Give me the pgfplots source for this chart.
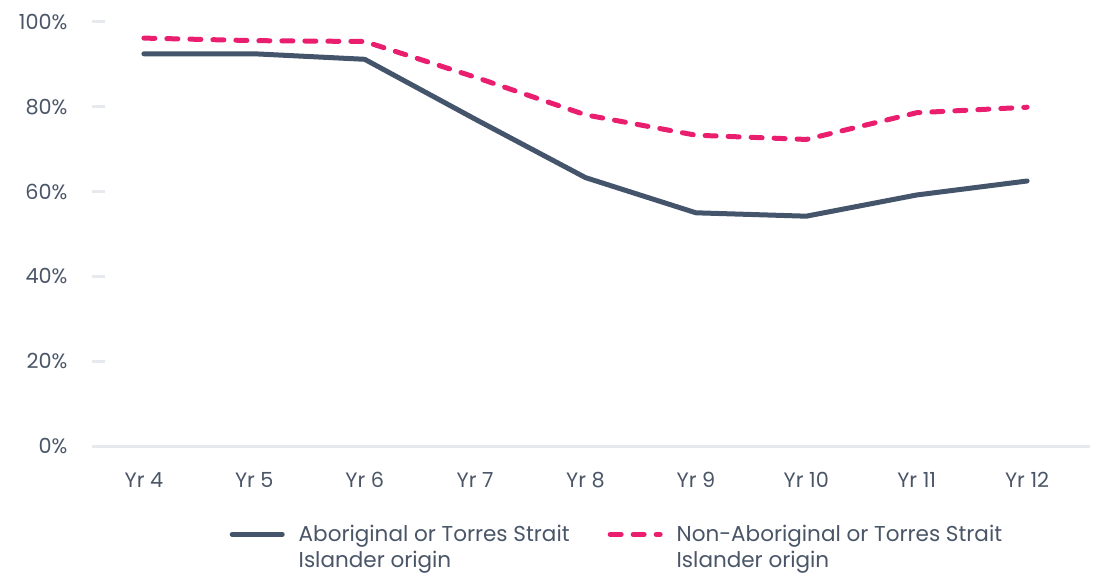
\documentclass[border=0pt]{standalone}
\usepackage{fontspec}
\setmainfont{Poppins}[Scale=0.92]
\usepackage{pgfplots}
\pgfplotsset{compat=1.18}
\definecolor{slate}{HTML}{44546A}
\definecolor{pinkline}{HTML}{E91E6F}
\definecolor{txt}{HTML}{4A5668}
\definecolor{gridgray}{HTML}{E6E9ED}
\begin{document}
\begin{tikzpicture}
\begin{axis}[
  scale only axis,
  width=499pt, height=212pt,
  xmin=-0.47, xmax=8.57,
  ymin=0, ymax=100,
  axis x line*=bottom,
  x axis line style={-, draw=gridgray, line width=1.5pt},
  axis y line*=left,
  y axis line style={draw=none},
  xtick={0,...,8},
  xticklabels={Yr 4,Yr 5,Yr 6,Yr 7,Yr 8,Yr 9,Yr 10,Yr 11,Yr 12},
  xtick style={draw=none},
  ytick={0,20,...,100},
  ytick pos=left,
  tick align=inside,
  ytick style={draw=gridgray, line width=1.5pt},
  major tick length=6.5pt,
  yticklabel={\pgfmathprintnumber{\tick}\%},
  /pgf/number format/assume math mode=true,
  tick label style={font=\fontsize{11.3}{13}\selectfont, text=txt},
  yticklabel style={xshift=-9pt},
  xticklabel style={yshift=-10pt},
  legend columns=2,
  legend style={at={(0.527,-0.166)}, anchor=north, draw=none,
    font=\fontsize{11.7}{13.4}\selectfont, text=txt,
    cells={align=left, anchor=west},
    /tikz/every odd column/.append style={column sep=5pt},
    /tikz/every even column/.append style={column sep=17pt}},
  legend image code/.code={\path[draw=none] (0pt,-6.7pt) (0pt,6.7pt);
    \draw[#1] (0pt,6.7pt) -- (25pt,6.7pt);},
]
\coordinate (bl) at (rel axis cs:0,0);
\coordinate (tr) at (rel axis cs:1,1);
\addplot[slate, line width=2.5pt, line cap=round, line join=round]
  coordinates {(0,92.5)(1,92.5)(2,91.2)(3,77.1)(4,63.3)(5,55.0)(6,54.2)(7,59.2)(8,62.5)};
\addlegendentry{Aboriginal or Torres Strait\\Islander origin}
\addplot[pinkline, line width=2.5pt, line cap=round, line join=round,
  dash pattern=on 5.5pt off 6pt]
  coordinates {(0,96.2)(1,95.6)(2,95.4)(3,87.0)(4,78.1)(5,73.3)(6,72.3)(7,78.6)(8,79.9)};
\addlegendentry{Non-Aboriginal or Torres Strait\\Islander origin}
\end{axis}
\path[use as bounding box] ([shift={(-46pt,-63pt)}]bl) rectangle ([shift={(4pt,11pt)}]tr);
\end{tikzpicture}
\end{document}
